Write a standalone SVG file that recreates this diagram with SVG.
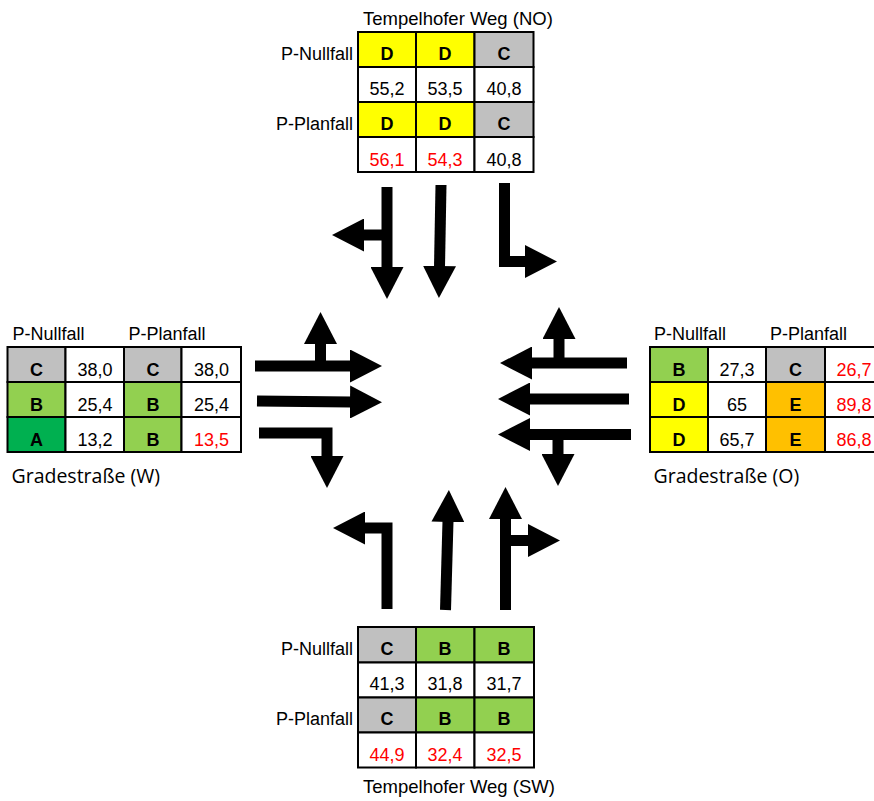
<svg xmlns="http://www.w3.org/2000/svg" width="874" height="801" viewBox="0 0 874 801">
<style>
text{font-family:"Liberation Sans",Arial,sans-serif;font-size:18px;fill:#000}
.l{font-weight:bold;font-size:18px;text-anchor:middle}
.n{text-anchor:middle}
.r{fill:#FF0000}
.e{text-anchor:end}
.ot{font-family:"Open Sans","Noto Sans",sans-serif;font-size:19.5px}
.c{stroke:#000;stroke-width:2}
.w{fill:#fff}.y{fill:#FFFF00}.g{fill:#C0C0C0}.lg{fill:#92D050}.dg{fill:#00B050}.o{fill:#FFC000}
.s{fill:none;stroke:#000;stroke-width:11;stroke-linejoin:miter;stroke-linecap:butt;marker-end:url(#ah)}
</style>
<defs>
<marker id="ah" viewBox="0 0 32 33" refX="1" refY="16.5" markerWidth="32" markerHeight="33" markerUnits="userSpaceOnUse" orient="auto">
<path d="M0,0 L32,16.5 L0,33 Z" fill="#000"/>
</marker>
</defs>
<rect x="0" y="0" width="874" height="801" fill="#fff"/>

<g id="table-no">
<text x="363" y="25" style="font-size:18.5px">Tempelhofer Weg (NO)</text>
<text class="e" x="353" y="60">P-Nullfall</text>
<text class="e" x="353" y="130">P-Planfall</text>
<rect class="c y" x="358" y="32" width="58" height="35"/>
<rect class="c y" x="416" y="32" width="58.5" height="35"/>
<rect class="c g" x="474.5" y="32" width="59" height="35"/>
<rect class="c w" x="358" y="67" width="58" height="35"/>
<rect class="c w" x="416" y="67" width="58.5" height="35"/>
<rect class="c w" x="474.5" y="67" width="59" height="35"/>
<rect class="c y" x="358" y="102" width="58" height="35"/>
<rect class="c y" x="416" y="102" width="58.5" height="35"/>
<rect class="c g" x="474.5" y="102" width="59" height="35"/>
<rect class="c w" x="358" y="137" width="58" height="35"/>
<rect class="c w" x="416" y="137" width="58.5" height="35"/>
<rect class="c w" x="474.5" y="137" width="59" height="35"/>
<text class="l" x="387" y="60">D</text><text class="l" x="445" y="60">D</text><text class="l" x="504" y="60">C</text>
<text class="n" x="387" y="95">55,2</text><text class="n" x="445" y="95">53,5</text><text class="n" x="504" y="95">40,8</text>
<text class="l" x="387" y="130">D</text><text class="l" x="445" y="130">D</text><text class="l" x="504" y="130">C</text>
<text class="n r" x="387" y="165.5">56,1</text><text class="n r" x="445" y="165.5">54,3</text><text class="n" x="504" y="165.5">40,8</text>
</g>

<g id="table-w">
<text x="12.5" y="340">P-Nullfall</text>
<text x="128.5" y="340">P-Planfall</text>
<text class="ot" x="11.5" y="483">Gradestraße (W)</text>
<rect class="c g" x="7.5" y="347" width="58" height="35"/>
<rect class="c w" x="65.5" y="347" width="58.5" height="35"/>
<rect class="c g" x="124" y="347" width="57.5" height="35"/>
<rect class="c w" x="181.5" y="347" width="59.5" height="35"/>
<rect class="c lg" x="7.5" y="382" width="58" height="35"/>
<rect class="c w" x="65.5" y="382" width="58.5" height="35"/>
<rect class="c lg" x="124" y="382" width="57.5" height="35"/>
<rect class="c w" x="181.5" y="382" width="59.5" height="35"/>
<rect class="c dg" x="7.5" y="417" width="58" height="35"/>
<rect class="c w" x="65.5" y="417" width="58.5" height="35"/>
<rect class="c lg" x="124" y="417" width="57.5" height="35"/>
<rect class="c w" x="181.5" y="417" width="59.5" height="35"/>
<text class="l" x="36.5" y="376">C</text><text class="n" x="95" y="376">38,0</text><text class="l" x="153" y="376">C</text><text class="n" x="211.5" y="376">38,0</text>
<text class="l" x="36.5" y="411">B</text><text class="n" x="95" y="411">25,4</text><text class="l" x="153" y="411">B</text><text class="n" x="211.5" y="411">25,4</text>
<text class="l" x="36.5" y="446">A</text><text class="n" x="95" y="446">13,2</text><text class="l" x="153" y="446">B</text><text class="n r" x="211.5" y="446">13,5</text>
</g>

<g id="table-o">
<text x="654" y="340">P-Nullfall</text>
<text x="770" y="340">P-Planfall</text>
<text class="ot" x="653.5" y="483">Gradestraße (O)</text>
<rect class="c lg" x="650" y="347" width="58" height="35"/>
<rect class="c w" x="708" y="347" width="58" height="35"/>
<rect class="c g" x="766" y="347" width="59" height="35"/>
<rect class="c w" x="825" y="347" width="59" height="35"/>
<rect class="c y" x="650" y="382" width="58" height="35"/>
<rect class="c w" x="708" y="382" width="58" height="35"/>
<rect class="c o" x="766" y="382" width="59" height="35"/>
<rect class="c w" x="825" y="382" width="59" height="35"/>
<rect class="c y" x="650" y="417" width="58" height="35"/>
<rect class="c w" x="708" y="417" width="58" height="35"/>
<rect class="c o" x="766" y="417" width="59" height="35"/>
<rect class="c w" x="825" y="417" width="59" height="35"/>
<text class="l" x="679" y="376">B</text><text class="n" x="737" y="376">27,3</text><text class="l" x="795.5" y="376">C</text><text class="n r" x="854" y="376">26,7</text>
<text class="l" x="679" y="411">D</text><text class="n" x="737" y="411">65</text><text class="l" x="795.5" y="411">E</text><text class="n r" x="854" y="411">89,8</text>
<text class="l" x="679" y="446">D</text><text class="n" x="737" y="446">65,7</text><text class="l" x="795.5" y="446">E</text><text class="n r" x="854" y="446">86,8</text>
</g>

<g id="table-sw">
<text class="e" x="353" y="655">P-Nullfall</text>
<text class="e" x="353" y="725">P-Planfall</text>
<text x="363" y="793" style="font-size:18.5px">Tempelhofer Weg (SW)</text>
<rect class="c g" x="358" y="627" width="58" height="35.5"/>
<rect class="c lg" x="416" y="627" width="58.5" height="35.5"/>
<rect class="c lg" x="474.5" y="627" width="59.5" height="35.5"/>
<rect class="c w" x="358" y="662.5" width="58" height="35"/>
<rect class="c w" x="416" y="662.5" width="58.5" height="35"/>
<rect class="c w" x="474.5" y="662.5" width="59.5" height="35"/>
<rect class="c g" x="358" y="697.5" width="58" height="35"/>
<rect class="c lg" x="416" y="697.5" width="58.5" height="35"/>
<rect class="c lg" x="474.5" y="697.5" width="59.5" height="35"/>
<rect class="c w" x="358" y="732.5" width="58" height="35"/>
<rect class="c w" x="416" y="732.5" width="58.5" height="35"/>
<rect class="c w" x="474.5" y="732.5" width="59.5" height="35"/>
<text class="l" x="387" y="655">C</text><text class="l" x="445" y="655">B</text><text class="l" x="504" y="655">B</text>
<text class="n" x="387" y="690">41,3</text><text class="n" x="445" y="690">31,8</text><text class="n" x="504" y="690">31,7</text>
<text class="l" x="387" y="725">C</text><text class="l" x="445" y="725">B</text><text class="l" x="504" y="725">B</text>
<text class="n r" x="387" y="760.5">44,9</text><text class="n r" x="445" y="760.5">32,4</text><text class="n r" x="504" y="760.5">32,5</text>
</g>

<g id="connectors">
<path class="s" d="M387,187 L387,268"/>
<path class="s" d="M387,235 L363,235"/>
<path class="s" d="M441,185 L439.5,267"/>
<path class="s" d="M504.5,183 L504.5,261.5 L526,261.5"/>
<path class="s" d="M255,366 L351,366"/>
<path class="s" d="M320.5,366 L320.5,343"/>
<path class="s" d="M257,401 L351,402"/>
<path class="s" d="M259,433 L327,433 L327,457"/>
<path class="s" d="M627,363 L531,363"/>
<path class="s" d="M559,363 L559,338"/>
<path class="s" d="M629,399 L529,399"/>
<path class="s" d="M631,434.5 L529,434.5"/>
<path class="s" d="M558,434.5 L558,455"/>
<path class="s" d="M387,609 L387,528 L364,528"/>
<path class="s" d="M445.5,610 L448,521"/>
<path class="s" d="M505.5,610 L505.5,518"/>
<path class="s" d="M505.5,540.5 L529,540.5"/>
</g>
</svg>
